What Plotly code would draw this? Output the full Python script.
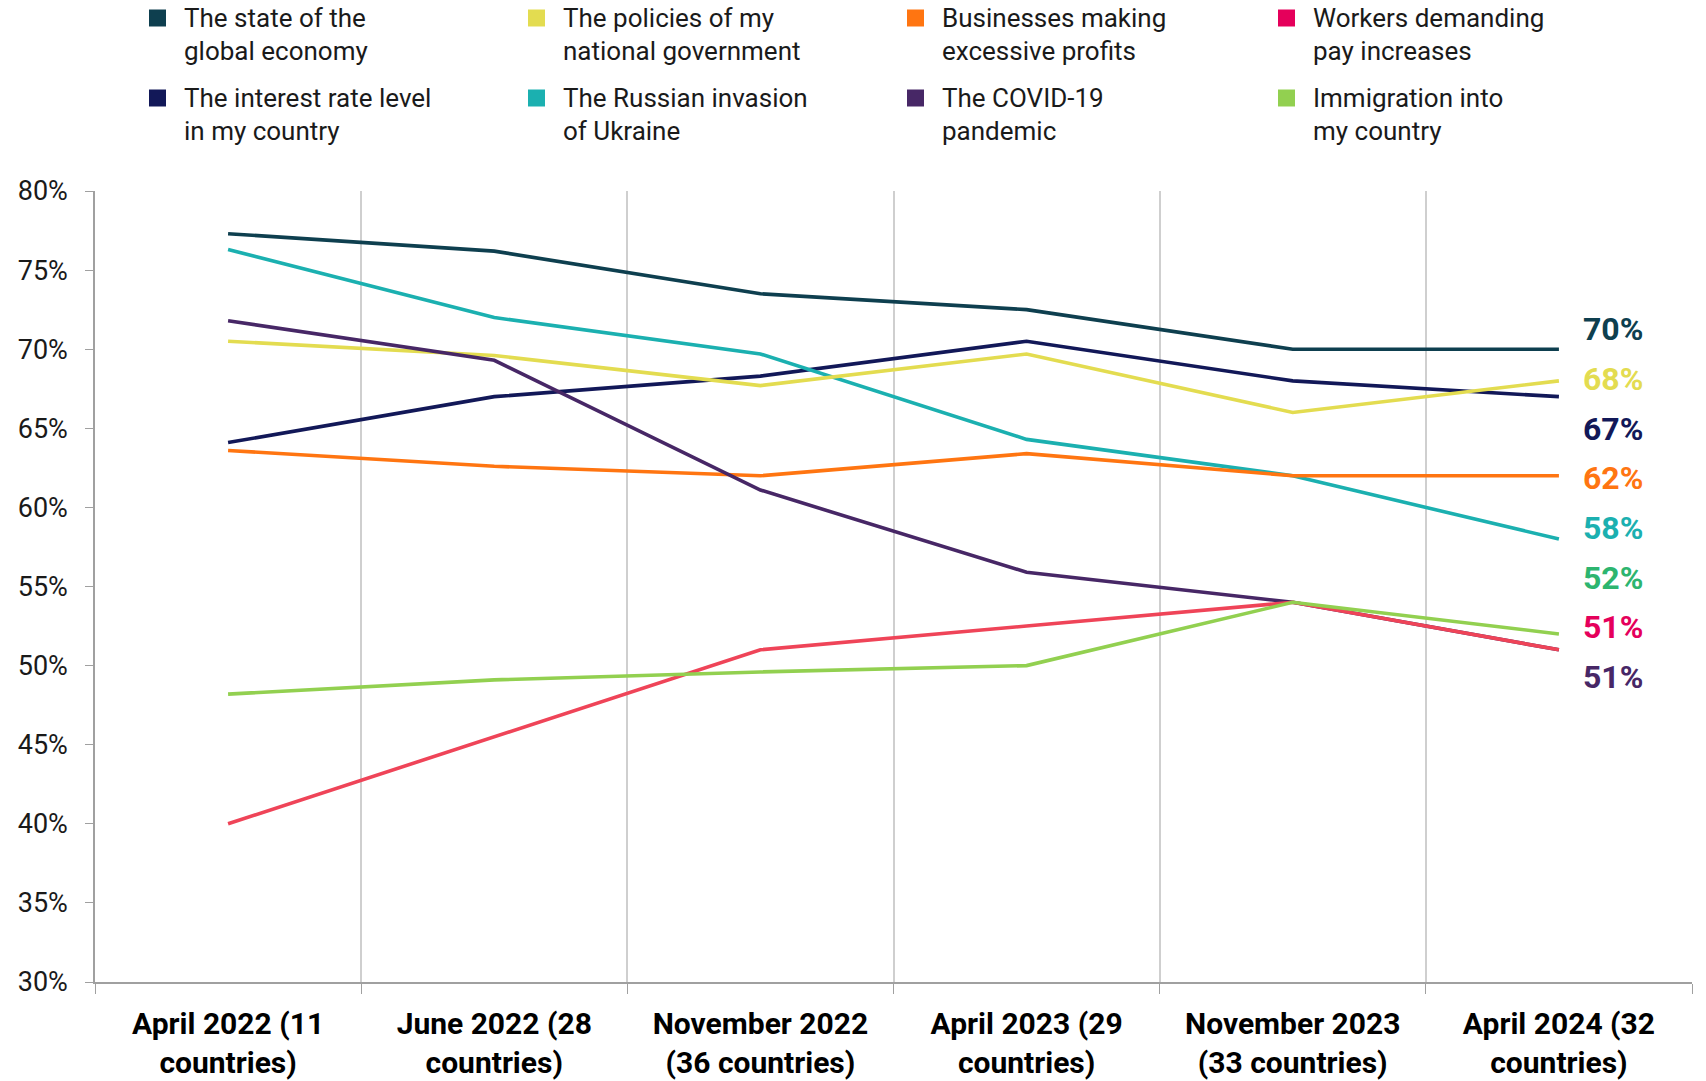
import plotly.graph_objects as go

# survey waves (x categories)
waves = [
    "April 2022 (11<br>countries)",
    "June 2022 (28<br>countries)",
    "November 2022<br>(36 countries)",
    "April 2023 (29<br>countries)",
    "November 2023<br>(33 countries)",
    "April 2024 (32<br>countries)",
]

# share of respondents (%)
global_economy = [77.3, 76.2, 73.5, 72.5, 70.0, 70.0]
interest_rate = [64.1, 67.0, 68.3, 70.5, 68.0, 67.0]
national_gov = [70.5, 69.6, 67.7, 69.7, 66.0, 68.0]
russian_invasion = [76.3, 72.0, 69.7, 64.3, 62.0, 58.0]
business_profits = [63.6, 62.6, 62.0, 63.4, 62.0, 62.0]
covid = [71.8, 69.3, 61.1, 55.9, 54.0, 51.0]
workers_pay = [40.0, 45.5, 51.0, 52.5, 54.0, 51.0]
immigration = [48.2, 49.1, 49.6, 50.0, 54.0, 52.0]

legend_names = [
    "The state of the<br>global economy",
    "The policies of my<br>national government",
    "Businesses making<br>excessive profits",
    "Workers demanding<br>pay increases",
    "The interest rate level<br>in my country",
    "The Russian invasion<br>of Ukraine",
    "The COVID-19<br>pandemic",
    "Immigration into<br>my country",
]

# key -> (values, line colour, legend colour, end label colour)
series = {
    "economy": (global_economy, "#0E3F4F", "#0E3F4F", "#0E3F4F"),
    "gov": (national_gov, "#E3DC50", "#E3DC50", "#E3DC50"),
    "business": (business_profits, "#FF7511", "#FF7511", "#FF7511"),
    "workers": (workers_pay, "#EF4458", "#E5005B", "#E5005B"),
    "interest": (interest_rate, "#121858", "#121858", "#121858"),
    "russia": (russian_invasion, "#1BB0B0", "#1BB0B0", "#1BB0B0"),
    "covid": (covid, "#472766", "#472766", "#472766"),
    "immigration": (immigration, "#92D050", "#92D050", "#2DB56F"),
}
legend_keys = ["economy", "gov", "business", "workers", "interest", "russia", "covid", "immigration"]
draw_order = ["economy", "interest", "russia", "gov", "business", "covid", "workers", "immigration"]
label_order = ["economy", "gov", "interest", "business", "russia", "immigration", "workers", "covid"]

W, H = 1706, 1081
L, R, T, B = 95, 14, 191, 99
PW, PH = W - L - R, H - T - B


def px(x):
    # pixel -> paper x
    return (x - L) / PW


def py(y):
    # pixel -> paper y
    return (H - B - y) / PH


fig = go.Figure()
for k in draw_order:
    vals, col, _, _ = series[k]
    fig.add_trace(go.Scatter(x=waves, y=vals, mode="lines", showlegend=False,
                             line=dict(color=col, width=3.6), hoverinfo="y"))

# end labels, stacked evenly
label_top, label_step = 71.26, 3.14
for i, k in enumerate(label_order):
    vals, _, _, lcol = series[k]
    fig.add_annotation(x=waves[-1], y=label_top - i * label_step, xref="x", yref="y",
                       text=f"<b>{vals[-1]:.0f}%</b>", showarrow=False,
                       xanchor="left", yanchor="middle", xshift=22,
                       font=dict(family="Roboto", size=32, color=lcol))

# legend drawn by hand: 4 columns x 2 rows, one annotation per text line
col_x = [149, 528, 907, 1278]
row_y = [18, 98]
line_gap = 32.6
for i, k in enumerate(legend_keys):
    c, r = i % 4, i // 4
    x0, yc = col_x[c], row_y[r]
    fig.add_shape(type="rect", xref="paper", yref="paper",
                  x0=px(x0), x1=px(x0 + 17), y0=py(yc + 8.5), y1=py(yc - 8.5),
                  fillcolor=series[k][2], line=dict(width=0))
    for j, part in enumerate(legend_names[i].split("<br>")):
        fig.add_annotation(x=px(x0 + 34), y=py(yc + j * line_gap), xref="paper", yref="paper",
                           text=part, showarrow=False, align="left",
                           xanchor="left", yanchor="middle", borderpad=0,
                           font=dict(family="Roboto", size=26, color="#1a1a1a"))

fig.update_layout(
    width=W, height=H,
    margin=dict(l=L, r=R, t=T, b=B),
    plot_bgcolor="white", paper_bgcolor="white",
    font=dict(family="Roboto", color="#1a1a1a"),
)
fig.update_xaxes(
    type="category", tickson="boundaries", showgrid=True, gridcolor="#CFCFCF", gridwidth=1.5,
    showline=True, linecolor="#A0A0A0", linewidth=2, ticks="outside", ticklen=10,
    tickcolor="#A0A0A0", tickfont=dict(family="Roboto", size=30, color="#000000", weight="bold"),
    range=[-0.5, 5.5], ticklabelstandoff=14, automargin=False,
)
fig.update_yaxes(
    range=[30, 80], dtick=5, ticksuffix="%", showgrid=False, zeroline=False,
    showline=True, linecolor="#A0A0A0", linewidth=1.5, ticks="outside", ticklen=8,
    tickcolor="#A0A0A0", tickfont=dict(family="Roboto", size=27, color="#1a1a1a"),
    ticklabelstandoff=12, automargin=False,
)

# drop the default 8px body margin so the figure fills the window exactly
fig.write_html("out.html", config={"displayModeBar": False},
               post_script="document.body.style.margin='0';")
